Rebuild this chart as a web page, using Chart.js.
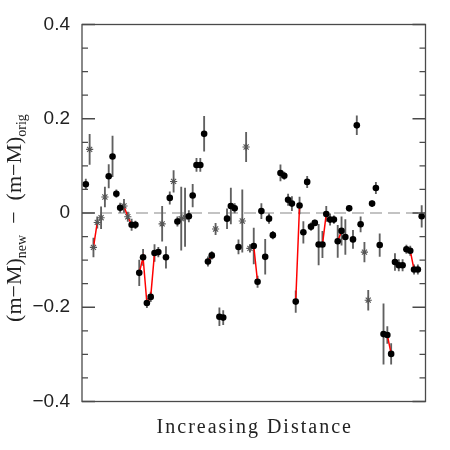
<!DOCTYPE html>
<html>
<head>
<meta charset="utf-8">
<script src="https://cdn.jsdelivr.net/npm/chart.js@4"></script>
<style>
  html, body { margin: 0; padding: 0; background: #fff; }
  #wrap { width: 450px; height: 450px; }
</style>
</head>
<body>
<div id="wrap"><canvas id="c" width="450" height="450"></canvas></div>
<script>
// ---- data (ordered objects along increasing distance; null = empty slot) ----
const values = [
  0.061, 0.135, -0.073, -0.020, -0.010, 0.034, 0.078, 0.120, 0.041, 0.011,
  0.015, -0.008, -0.025, -0.025, -0.127, -0.094, -0.191, -0.178, -0.085, -0.083,
  -0.023, -0.094, 0.032, 0.067, -0.018, -0.012, -0.009, -0.007, 0.037, 0.102,
  0.102, 0.168, -0.103, -0.090, -0.034, -0.220, -0.222, -0.012, 0.015, 0.010,
  -0.072, -0.017, 0.140, -0.075, -0.070, -0.146, 0.004, -0.093, -0.012, -0.047,
  null,
  0.085, 0.079, 0.028, 0.020, -0.188, 0.016, -0.041, 0.066, -0.029, -0.021,
  -0.067, -0.067, -0.002, -0.014, -0.014, -0.060, -0.038, -0.051, 0.010, -0.056,
  0.186, -0.024, -0.083, -0.185, 0.020, 0.053, -0.068, -0.257, -0.259, -0.299,
  -0.104, -0.111, -0.111, -0.077, -0.080, -0.120, -0.120, -0.007
];
const errors = [
  0.011, 0.032, 0.020, 0.012, 0.023, 0.021, 0.025, 0.043, 0.008, 0.010,
  0.014, 0.010, 0.012, 0.008, 0.027, 0.017, 0.010, 0.010, 0.018, 0.010,
  0.037, 0.023, 0.013, 0.023, 0.010, 0.067, 0.062, 0.012, 0.024, 0.014,
  0.014, 0.037, 0.010, 0.008, 0.012, 0.019, 0.015, 0.021, 0.038, 0.010,
  0.015, 0.066, 0.031, 0.008, 0.038, 0.012, 0.016, 0.037, 0.010, 0.008,
  null,
  0.017, 0.008, 0.012, 0.015, 0.023, 0.018, 0.023, 0.012, 0.008, 0.006,
  0.043, 0.028, 0.016, 0.012, 0.008, 0.034, 0.030, 0.037, 0.006, 0.019,
  0.020, 0.016, 0.021, 0.021, 0.006, 0.012, 0.024, 0.064, 0.018, 0.022,
  0.018, 0.012, 0.012, 0.009, 0.010, 0.010, 0.010, 0.023
];
// 'o' = filled circle, '*' = asterisk
const kinds = (
  'o*****oooo**oooooooo*oo*o**ooooooo*oooooo***oooooo' + '-' +
  'oooooooooooooooooooooo**oooooooooooooo'
).split('');
// groups of consecutive objects joined by red lines (1-based slot numbers)
const redLinks = [
  [3, 4], [10, 11, 12, 13], [15, 16, 17, 18, 19], [33, 34], [45, 46],
  [56, 57], [63, 64], [67, 68], [79, 80, 81], [86, 87]
];
const yTickValues = [-0.4, -0.2, 0, 0.2, 0.4];
const xTitle = 'Increasing Distance';

// ---- build datasets from the arrays ----
const filled = [], stars = [], bars = [];
values.forEach((v, i) => {
  if (v === null) return;
  const x = i + 1;
  (kinds[i] === '*' ? stars : filled).push({ x: x, y: v });
  bars.push({ x: x, y: [v - errors[i], v + errors[i]] });
});
const red = [];
redLinks.forEach(g => {
  g.forEach(s => red.push({ x: s, y: values[s - 1] }));
  red.push({ x: g[g.length - 1] + 0.5, y: null });
});
const nSlots = values.length + 1;

const framePlugin = {
  id: 'frame',
  afterDatasetsDraw(chart) {
    const { ctx, chartArea: a, scales } = chart;
    const ys = scales.y;
    ctx.save();
    ctx.strokeStyle = '#4a4a4a';
    ctx.lineWidth = 1.3;
    ctx.strokeRect(a.left, a.top, a.right - a.left, a.bottom - a.top);
    ys.ticks.forEach(t => {
      const v = Math.round(t.value * 100) / 100;
      const major = yTickValues.some(m => Math.abs(m - v) < 1e-6);
      const len = major ? 13 : 6;
      const py = ys.getPixelForValue(t.value);
      ctx.beginPath();
      ctx.moveTo(a.left, py); ctx.lineTo(a.left + len, py);
      ctx.moveTo(a.right, py); ctx.lineTo(a.right - len, py);
      ctx.stroke();
    });
    ctx.restore();
  },
  afterDraw(chart) {
    const { ctx, chartArea: a } = chart;
    ctx.save();
    ctx.fillStyle = '#222';
    // x title
    ctx.font = '20px "Liberation Serif"';
    if ('letterSpacing' in ctx) ctx.letterSpacing = '2px';
    ctx.textAlign = 'center';
    ctx.textBaseline = 'alphabetic';
    ctx.fillText(xTitle, (a.left + a.right) / 2 + 1, 433);
    if ('letterSpacing' in ctx) ctx.letterSpacing = '0px';
    // y title with subscripts
    const parts = [
      { t: '(m\u2212M)', f: '22px "Liberation Serif"', dy: 0 },
      { t: 'new', f: '14px "Liberation Serif"', dy: 5 },
      { t: '  \u2212  ', f: '22px "Liberation Serif"', dy: 0 },
      { t: '(m\u2212M)', f: '22px "Liberation Serif"', dy: 0 },
      { t: 'orig', f: '14px "Liberation Serif"', dy: 5 }
    ];
    let total = 0;
    parts.forEach(p => { ctx.font = p.f; p.w = ctx.measureText(p.t).width; total += p.w; });
    ctx.translate(21, 218);
    ctx.rotate(-Math.PI / 2);
    ctx.textAlign = 'left';
    let xx = -total / 2;
    parts.forEach(p => { ctx.font = p.f; ctx.fillText(p.t, xx, p.dy); xx += p.w; });
    ctx.restore();
  }
};

new Chart(document.getElementById('c'), {
  type: 'scatter',
  data: {
    datasets: [
      { type: 'line', data: [{ x: 0, y: 0 }, { x: nSlots, y: 0 }], borderColor: '#b0b0b0',
        borderWidth: 1.5, borderDash: [12, 6], pointRadius: 0, order: 5 },
      { type: 'bar', data: bars, backgroundColor: '#606060', barThickness: 1.2, order: 4 },
      { type: 'line', data: red, borderColor: '#ff0000', borderWidth: 1.5, pointRadius: 0,
        spanGaps: false, order: 3 },
      { data: stars, pointStyle: 'star', pointRadius: 3.6, borderColor: '#555',
        backgroundColor: '#555', borderWidth: 1.1, order: 2 },
      { data: filled, pointStyle: 'circle', pointRadius: 3.3, borderColor: '#000',
        backgroundColor: '#000', borderWidth: 0, order: 1 }
    ]
  },
  options: {
    responsive: false,
    animation: false,
    events: [],
    layout: { padding: { top: 24.5, right: 24.5, bottom: 48.5, left: 0 } },
    plugins: { legend: { display: false }, tooltip: { enabled: false } },
    scales: {
      x: { type: 'linear', min: 0, max: nSlots, display: false, offset: false },
      y: {
        type: 'linear', min: -0.4, max: 0.4,
        afterFit: s => { s.width = 82; },
        grid: { display: false, drawTicks: false },
        border: { display: false },
        ticks: {
          stepSize: 0.05, autoSkip: false, padding: 12, color: '#222',
          font: { family: '"Liberation Sans"', size: 19 },
          callback: v => {
            const r = Math.round(v * 100) / 100;
            if (!yTickValues.some(m => Math.abs(m - r) < 1e-6)) return '';
            if (r === 0) return '0';
            return (r < 0 ? '\u2212' : '') + Math.abs(r).toFixed(1);
          }
        }
      }
    }
  },
  plugins: [framePlugin]
});
</script>
</body>
</html>
